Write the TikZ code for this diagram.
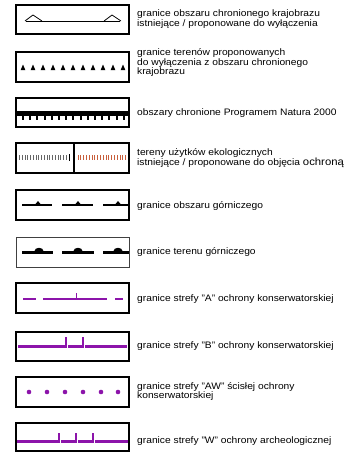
\documentclass[tikz,border=0pt]{standalone}
\usepackage{fontspec}
\setmainfont{Liberation Sans}
\usepackage{graphicx}
\definecolor{purp}{RGB}{140,20,170}
\definecolor{rust}{RGB}{200,95,60}
\newcommand{\lgtext}[1]{\scalebox{1.09}[1]{\begin{tabular}{@{}l@{}}#1\end{tabular}}}
\begin{document}
\begin{tikzpicture}[x=1pt,y=-1pt,
  legbox/.style={draw=black,line width=2.4pt},
  thinbox/.style={draw=black!75,line width=0.9pt},
  lbl/.style={anchor=west,inner sep=0pt,font=\fontsize{9.4}{8.6}\selectfont},
  pline/.style={draw=purp,line width=3pt},
  ptick/.style={draw=purp,line width=1.2pt},
  slit/.style={draw=white,line width=0.6pt}]
\fill[white] (0,0) rectangle (358,452);
\useasboundingbox (0,0) rectangle (358,452);

% 1
\draw[line width=0.8pt] (26,21) -- (120,21);
\draw[line width=0.8pt,line join=miter] (25,21) -- (33,15) -- (42,21);
\draw[line width=0.8pt,line join=miter] (104,21) -- (112,15) -- (121,21);
\draw[legbox] (16,5) rectangle (129,34);
\node[lbl] (t1) at (137,19.5) {\lgtext{granice obszaru chronionego krajobrazu\\istniejące / proponowane do wyłączenia}};

% 2
\foreach \i in {0,...,10} \fill ({23+\i*10-2.3},70) -- ({23+\i*10+2.3},70) -- ({23+\i*10},64.5) -- cycle;
\draw[legbox] (16,52) rectangle (129,82);
\node[lbl] (t2) at (137,63) {\lgtext{granice terenów proponowanych\\do wyłączenia z obszaru chronionego\\krajobrazu}};

% 3
\fill (16,110.5) rectangle (129,115.5);
\foreach \i in {0,...,14} \fill ({23+\i*7.2-1},115) rectangle ++(2,4.5);
\draw[legbox] (16,98) rectangle (129,127);
\node[lbl] (t3) at (137,113.5) {\lgtext{obszary chronione Programem Natura 2000}};

% 4
\foreach \i in {0,...,17} \draw[black!60,line width=0.7pt] ({19.5+\i*2.75},155) -- ++(0,5);
\draw[black,line width=0.9pt] (69,154) -- (69,161);
\foreach \i in {0,...,17} \draw[rust,line width=0.7pt] ({78+\i*2.8},155) -- ++(0,5);
\draw[line width=2.4pt] (74,143) -- (74,173);
\draw[legbox] (16,143) rectangle (129,173);
\node[lbl] (t4) at (137,158) {\lgtext{tereny użytków ekologicznych\\istniejące / proponowane do objęcia {\fontsize{10.4}{8.6}\selectfont ochroną}}};

% 5
\foreach \a/\b/\c in {22/52/38, 62/93/78, 103/128/118} {
  \draw[line width=2.3pt] (\a,205) -- (\b,205);
  \fill (\c-2.5,204) -- (\c,201) -- (\c+2.5,204) -- cycle;
}
\draw[legbox] (16,190) rectangle (129,220);
\node[lbl] (t5) at (137,206) {\lgtext{granice obszaru górniczego}};

% 6
\foreach \a/\b/\c in {22/53/39, 62/94/78, 103/129/118} {
  \draw[line width=3pt] (\a,252) -- (\b,252);
  \fill (\c-4.5,251) arc[start angle=180,end angle=360,x radius=4.5,y radius=3.2] -- cycle;
}
\draw[thinbox] (16,237) rectangle (129,267);
\node[lbl] (t6) at (137,252) {\lgtext{granice terenu górniczego}};

% 7
\draw[purp,line width=1.6pt] (23,299) -- (36,299) (43,299) -- (107,299) (115,299) -- (123,299);
\draw[purp,line width=0.8pt] (76,299) -- (76,293);
\draw[legbox] (16,283) rectangle (129,313);
\node[lbl] (t7) at (137,299) {\lgtext{granice strefy "A" ochrony konserwatorskiej}};

% 8
\draw[pline] (18,346) -- (127,346);
\foreach \c in {66,83} {
  \draw[slit] (\c+1.2,344) -- (\c+1.2,348);
  \draw[ptick] (\c,337) -- (\c,347.5);
}
\draw[legbox] (16,332) rectangle (129,361);
\node[lbl] (t8) at (137,346) {\lgtext{granice strefy "B" ochrony konserwatorskiej}};

% 9
\foreach \c in {29,47,65,83,101,118} \fill[purp] (\c,392) circle (2.3);
\draw[legbox] (16,377) rectangle (129,407);
\node[lbl] (t9) at (137,392) {\lgtext{granice strefy "AW" ścisłej ochrony\\konserwatorskiej}};

% 10
\draw[pline] (17,441) -- (129,441);
\foreach \c in {59,76,93} {
  \draw[slit] (\c+1.2,439) -- (\c+1.2,443);
  \draw[ptick] (\c,433) -- (\c,442.5);
}
\draw[legbox] (16,423) rectangle (129,451);
\node[lbl] (t10) at (137,441) {\lgtext{granice strefy "W" ochrony archeologicznej}};
\end{tikzpicture}
\end{document}
